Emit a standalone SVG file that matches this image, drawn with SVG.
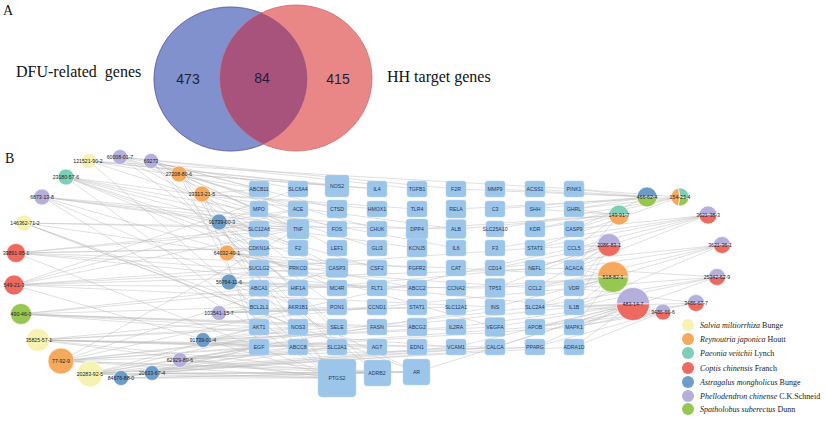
<svg xmlns="http://www.w3.org/2000/svg" width="825" height="421" viewBox="0 0 825 421">
<style>
.ttl{font-family:"Liberation Serif",serif;fill:#111}
.num{font-family:"Liberation Sans",sans-serif;font-size:14px;fill:#1c1f3a;text-anchor:middle}
.gb rect{fill:#9cc5ea;stroke:#b9d6f1;stroke-width:0.5}
.gb text{font-family:"Liberation Sans",sans-serif;font-size:5.2px;fill:#1f3a5f;text-anchor:middle}
.cp text{font-family:"Liberation Sans",sans-serif;font-size:5.2px;fill:#222;text-anchor:middle}
.cp circle,.cp path{stroke:#fff;stroke-width:0.6}
.e path{fill:none;stroke:#bdbdbd;stroke-width:0.55;stroke-opacity:0.85}
.lg text{font-family:"Liberation Serif",serif;font-size:8px;fill:#222}
.sa{fill:#f6f3b2}.re{fill:#f4a95c}.pa{fill:#7dcfb7}.co{fill:#ee6a61}.as{fill:#6c9dc9}.ph{fill:#b5afdb}.sp{fill:#96c851}
</style>
<defs>
<clipPath id="cb"><ellipse cx="230.5" cy="79" rx="76.5" ry="72"/></clipPath>
</defs>

<g id="venn">
<text class="ttl" x="3" y="15" font-size="14">A</text>
<ellipse cx="230.5" cy="79" rx="76.5" ry="72" fill="#8091cd" stroke="#5c6cb2" stroke-width="0.8"/>
<ellipse cx="296" cy="78" rx="76" ry="73" fill="#e98787" stroke="#d26a6a" stroke-width="0.8"/>
<ellipse cx="296" cy="78" rx="76" ry="73" fill="#a8537b" clip-path="url(#cb)"/>
<ellipse cx="230.5" cy="79" rx="76.5" ry="72" fill="none" stroke="#6a4f8a" stroke-width="0.6" stroke-opacity="0.6"/>
<text class="ttl" x="16" y="77" font-size="16" xml:space="preserve">DFU-related  genes</text>
<text class="ttl" x="387" y="82" font-size="16">HH target genes</text>
<text class="num" x="188" y="84">473</text>
<text class="num" x="262" y="83">84</text>
<text class="num" x="338" y="84">415</text>
</g>

<text class="ttl" x="5" y="163" font-size="14">B</text>

<g id="connectors" class="e">
<path d="M89 161L259 189M89 161L337 186M89 161L298 229M89 161L337 378M89 161L377 189M89 161L574 189"/>
<path d="M120 157L298 189M120 157L259 209M120 157L298 209M120 157L337 268M120 157L298 288M120 157L417 189M120 157L456 189"/>
<path d="M151 161L259 189M151 161L337 209M151 161L337 229M151 161L298 229M151 161L337 248M151 161L337 378M151 161L337 347"/>
<path d="M179 174L337 186M179 174L377 189M179 174L377 229M179 174L298 268M179 174L259 327M179 174L337 378M179 174L377 373"/>
<path d="M66 177L298 229M66 177L259 229M66 177L259 248M66 177L456 248M66 177L456 229M66 177L337 268M66 177L337 378M66 177L337 288"/>
<path d="M202 194L259 189M202 194L377 209M202 194L377 248M202 194L417 209M202 194L259 288M202 194L259 347"/>
<path d="M42 197L298 229M42 197L337 229M42 197L417 248M42 197L417 229M42 197L298 307M42 197L337 378M42 197L495 327"/>
<path d="M219 222L259 209M219 222L259 229M219 222L298 209M219 222L298 248M219 222L377 268M219 222L337 307M219 222L337 327"/>
<path d="M24 223L298 229M24 223L456 229M24 223L337 268M24 223L259 307M24 223L298 327M24 223L417 372"/>
<path d="M16 253L259 229M16 253L298 229M16 253L259 248M16 253L298 248M16 253L456 268M16 253L337 378M16 253L574 307M16 253L535 288"/>
<path d="M227 253L259 248M227 253L259 268M227 253L298 268M227 253L417 268M227 253L417 288M227 253L377 373"/>
<path d="M229 282L259 288M229 282L259 268M229 282L298 288M229 282L337 288M229 282L377 288M229 282L456 288M229 282L417 372"/>
<path d="M14 285L298 229M14 285L298 209M14 285L298 189M14 285L337 268M14 285L337 378M14 285L495 307M14 285L495 288M14 285L535 248M14 285L574 268"/>
<path d="M21 314L259 307M21 314L259 288M21 314L259 327M21 314L337 327M21 314L377 327M21 314L417 327M21 314L456 347M21 314L535 268"/>
<path d="M219 313L259 307M219 313L298 307M219 313L337 307M219 313L377 307M219 313L417 307M219 313L456 307"/>
<path d="M38 340L259 327M38 340L259 347M38 340L298 327M38 340L298 347M38 340L337 347M38 340L377 347M38 340L337 378M38 340L377 373M38 340L574 288M38 340L495 347"/>
<path d="M203 340L259 327M203 340L259 347M203 340L298 327M203 340L337 327M203 340L456 327M203 340L495 327M203 340L417 347"/>
<path d="M61 361L298 229M61 361L337 268M61 361L337 378M61 361L377 373M61 361L417 372M61 361L574 327M61 361L535 347M61 361L535 307M61 361L535 327M61 361L574 307M61 361L574 248"/>
<path d="M180 360L259 347M180 360L298 347M180 360L337 347M180 360L337 378M180 360L377 347M180 360L377 373"/>
<path d="M90 374L259 347M90 374L259 327M90 374L298 327M90 374L337 347M90 374L337 378M90 374L377 373M90 374L417 372M90 374L495 347M90 374L574 347M90 374L456 347M90 374L495 307"/>
<path d="M121 378L259 347M121 378L298 347M121 378L337 378M121 378L377 373M121 378L417 372"/>
<path d="M152 373L259 347M152 373L337 378M152 373L417 372M152 373L337 347M152 373L456 347M152 373L495 347M152 373L535 347"/>
<path d="M647 197L574 189M647 197L574 209M647 197L535 189M647 197L495 189M647 197L495 209M647 197L535 209M647 197L574 229M647 197L456 189"/>
<path d="M680 197L574 189M680 197L574 209M680 197L535 229M680 197L495 229M680 197L535 248M680 197L456 209"/>
<path d="M619 215L574 209M619 215L574 229M619 215L535 229M619 215L574 248M619 215L574 268M619 215L535 209M619 215L456 229M619 215L417 229"/>
<path d="M708 215L574 229M708 215L574 248M708 215L535 248M708 215L535 268M708 215L495 248M708 215L574 268"/>
<path d="M609 245L574 248M609 245L574 268M609 245L574 288M609 245L535 248M609 245L495 268M609 245L535 268M609 245L535 288M609 245L495 288M609 245L574 307"/>
<path d="M722 245L574 268M722 245L574 288M722 245L535 288M722 245L574 307M722 245L495 268"/>
<path d="M613 277L574 288M613 277L574 307M613 277L574 327M613 277L574 268M613 277L535 307M613 277L495 307M613 277L535 288M613 277L456 268M613 277L495 288M613 277L456 288"/>
<path d="M633 304L574 307M633 304L574 327M633 304L574 347M633 304L535 327M633 304L535 347M633 304L495 327M633 304L535 307M633 304L495 347M633 304L456 347M633 304L456 327M633 304L417 372"/>
<path d="M717 277L574 288M717 277L574 307M717 277L574 327M717 277L574 268M717 277L535 307"/>
<path d="M696 303L574 327M696 303L574 307M696 303L535 327M696 303L574 288"/>
<path d="M663 312L574 327M663 312L574 347M663 312L535 347M663 312L574 307M663 312L535 327"/>
</g>

<g id="genes">
<g id="g-ABCB11" class="gb"><rect x="249" y="181" width="20" height="16" rx="2.5"/><text x="259" y="190.8">ABCB11</text></g>
<g id="g-SLC6A4" class="gb"><rect x="288" y="181" width="20" height="16" rx="2.5"/><text x="298" y="190.8">SLC6A4</text></g>
<g id="g-NOS2" class="gb"><rect x="325" y="175" width="24" height="22" rx="3"/><text x="337" y="187.8">NOS2</text></g>
<g id="g-IL4" class="gb"><rect x="367" y="181" width="20" height="16" rx="2.5"/><text x="377" y="190.8">IL4</text></g>
<g id="g-TGFB1" class="gb"><rect x="407" y="181" width="20" height="16" rx="2.5"/><text x="417" y="190.8">TGFB1</text></g>
<g id="g-F2R" class="gb"><rect x="446" y="181" width="20" height="16" rx="2.5"/><text x="456" y="190.8">F2R</text></g>
<g id="g-MMP9" class="gb"><rect x="485" y="181" width="20" height="16" rx="2.5"/><text x="495" y="190.8">MMP9</text></g>
<g id="g-ACSS1" class="gb"><rect x="525" y="181" width="20" height="16" rx="2.5"/><text x="535" y="190.8">ACSS1</text></g>
<g id="g-PINK1" class="gb"><rect x="564" y="181" width="20" height="16" rx="2.5"/><text x="574" y="190.8">PINK1</text></g>

<g id="g-MPO" class="gb"><rect x="250" y="201" width="18" height="16" rx="2.5"/><text x="259" y="210.8">MPO</text></g>
<g id="g-ACE" class="gb"><rect x="288" y="201" width="20" height="16" rx="2.5"/><text x="298" y="210.8">ACE</text></g>
<g id="g-CTSD" class="gb"><rect x="327" y="200" width="20" height="18" rx="2.5"/><text x="337" y="210.8">CTSD</text></g>
<g id="g-HMOX1" class="gb"><rect x="367" y="201" width="20" height="16" rx="2.5"/><text x="377" y="210.8">HMOX1</text></g>
<g id="g-TLR4" class="gb"><rect x="407" y="201" width="20" height="16" rx="2.5"/><text x="417" y="210.8">TLR4</text></g>
<g id="g-RELA" class="gb"><rect x="446" y="200" width="20" height="18" rx="2.5"/><text x="456" y="210.8">RELA</text></g>
<g id="g-C3" class="gb"><rect x="485" y="201" width="20" height="16" rx="2.5"/><text x="495" y="210.8">C3</text></g>
<g id="g-SHH" class="gb"><rect x="525" y="201" width="20" height="16" rx="2.5"/><text x="535" y="210.8">SHH</text></g>
<g id="g-GHRL" class="gb"><rect x="564" y="201" width="20" height="16" rx="2.5"/><text x="574" y="210.8">GHRL</text></g>

<g id="g-SLC12A6" class="gb"><rect x="249" y="221" width="20" height="16" rx="2.5"/><text x="259" y="230.8">SLC12A6</text></g>
<g id="g-TNF" class="gb"><rect x="287" y="219" width="22" height="20" rx="3"/><text x="298" y="230.8">TNF</text></g>
<g id="g-FOS" class="gb"><rect x="327" y="221" width="20" height="16" rx="2.5"/><text x="337" y="230.8">FOS</text></g>
<g id="g-CHUK" class="gb"><rect x="367" y="221" width="20" height="16" rx="2.5"/><text x="377" y="230.8">CHUK</text></g>
<g id="g-DPP4" class="gb"><rect x="406" y="219" width="22" height="20" rx="3"/><text x="417" y="230.8">DPP4</text></g>
<g id="g-ALB" class="gb"><rect x="446" y="219.5" width="20" height="19" rx="2.5"/><text x="456" y="230.8">ALB</text></g>
<g id="g-SLC25A10" class="gb"><rect x="486" y="221" width="18" height="16" rx="2.5"/><text x="495" y="230.8">SLC25A10</text></g>
<g id="g-KDR" class="gb"><rect x="525" y="221" width="20" height="16" rx="2.5"/><text x="535" y="230.8">KDR</text></g>
<g id="g-CASP9" class="gb"><rect x="564" y="221" width="20" height="16" rx="2.5"/><text x="574" y="230.8">CASP9</text></g>

<g id="g-CDKN1A" class="gb"><rect x="249" y="240" width="20" height="16" rx="2.5"/><text x="259" y="249.8">CDKN1A</text></g>
<g id="g-F2" class="gb"><rect x="288" y="240" width="20" height="16" rx="2.5"/><text x="298" y="249.8">F2</text></g>
<g id="g-LEF1" class="gb"><rect x="327" y="240" width="20" height="16" rx="2.5"/><text x="337" y="249.8">LEF1</text></g>
<g id="g-GLI3" class="gb"><rect x="367" y="240" width="20" height="16" rx="2.5"/><text x="377" y="249.8">GLI3</text></g>
<g id="g-KCNJ5" class="gb"><rect x="407" y="239" width="20" height="18" rx="2.5"/><text x="417" y="249.8">KCNJ5</text></g>
<g id="g-IL6" class="gb"><rect x="446" y="240" width="20" height="16" rx="2.5"/><text x="456" y="249.8">IL6</text></g>
<g id="g-F3" class="gb"><rect x="485" y="240" width="20" height="16" rx="2.5"/><text x="495" y="249.8">F3</text></g>
<g id="g-STAT3" class="gb"><rect x="525" y="240" width="20" height="16" rx="2.5"/><text x="535" y="249.8">STAT3</text></g>
<g id="g-CCL5" class="gb"><rect x="564" y="240" width="20" height="16" rx="2.5"/><text x="574" y="249.8">CCL5</text></g>

<g id="g-SUCLG2" class="gb"><rect x="249" y="260" width="20" height="16" rx="2.5"/><text x="259" y="269.8">SUCLG2</text></g>
<g id="g-PRKCD" class="gb"><rect x="288" y="260" width="20" height="16" rx="2.5"/><text x="298" y="269.8">PRKCD</text></g>
<g id="g-CASP3" class="gb"><rect x="326" y="258.5" width="22" height="19" rx="3"/><text x="337" y="269.8">CASP3</text></g>
<g id="g-CSF2" class="gb"><rect x="367" y="260" width="20" height="16" rx="2.5"/><text x="377" y="269.8">CSF2</text></g>
<g id="g-FGFR2" class="gb"><rect x="407" y="260" width="20" height="16" rx="2.5"/><text x="417" y="269.8">FGFR2</text></g>
<g id="g-CAT" class="gb"><rect x="446" y="260" width="20" height="16" rx="2.5"/><text x="456" y="269.8">CAT</text></g>
<g id="g-CD14" class="gb"><rect x="485" y="260" width="20" height="16" rx="2.5"/><text x="495" y="269.8">CD14</text></g>
<g id="g-NEFL" class="gb"><rect x="525" y="260" width="20" height="16" rx="2.5"/><text x="535" y="269.8">NEFL</text></g>
<g id="g-ACACA" class="gb"><rect x="564" y="260" width="20" height="16" rx="2.5"/><text x="574" y="269.8">ACACA</text></g>

<g id="g-ABCA1" class="gb"><rect x="249" y="280" width="20" height="16" rx="2.5"/><text x="259" y="289.8">ABCA1</text></g>
<g id="g-HIF1A" class="gb"><rect x="288" y="280" width="20" height="16" rx="2.5"/><text x="298" y="289.8">HIF1A</text></g>
<g id="g-MC4R" class="gb"><rect x="327" y="280" width="20" height="16" rx="2.5"/><text x="337" y="289.8">MC4R</text></g>
<g id="g-FLT1" class="gb"><rect x="367" y="280" width="20" height="16" rx="2.5"/><text x="377" y="289.8">FLT1</text></g>
<g id="g-ABCC2" class="gb"><rect x="407" y="280" width="20" height="16" rx="2.5"/><text x="417" y="289.8">ABCC2</text></g>
<g id="g-CCNA2" class="gb"><rect x="446" y="280" width="20" height="16" rx="2.5"/><text x="456" y="289.8">CCNA2</text></g>
<g id="g-TP53" class="gb"><rect x="485" y="278.5" width="20" height="19" rx="2.5"/><text x="495" y="289.8">TP53</text></g>
<g id="g-CCL2" class="gb"><rect x="525" y="280" width="20" height="16" rx="2.5"/><text x="535" y="289.8">CCL2</text></g>
<g id="g-VDR" class="gb"><rect x="564" y="280" width="20" height="16" rx="2.5"/><text x="574" y="289.8">VDR</text></g>

<g id="g-BCL2L1" class="gb"><rect x="249" y="299" width="20" height="16" rx="2.5"/><text x="259" y="308.8">BCL2L1</text></g>
<g id="g-AKR1B1" class="gb"><rect x="288" y="299" width="20" height="16" rx="2.5"/><text x="298" y="308.8">AKR1B1</text></g>
<g id="g-PON1" class="gb"><rect x="327" y="299" width="20" height="16" rx="2.5"/><text x="337" y="308.8">PON1</text></g>
<g id="g-CCND1" class="gb"><rect x="367" y="299" width="20" height="16" rx="2.5"/><text x="377" y="308.8">CCND1</text></g>
<g id="g-STAT1" class="gb"><rect x="407" y="299" width="20" height="16" rx="2.5"/><text x="417" y="308.8">STAT1</text></g>
<g id="g-SLC12A1" class="gb"><rect x="446" y="299" width="20" height="16" rx="2.5"/><text x="456" y="308.8">SLC12A1</text></g>
<g id="g-INS" class="gb"><rect x="485" y="299" width="20" height="16" rx="2.5"/><text x="495" y="308.8">INS</text></g>
<g id="g-SLC2A4" class="gb"><rect x="525" y="299" width="20" height="16" rx="2.5"/><text x="535" y="308.8">SLC2A4</text></g>
<g id="g-IL1B" class="gb"><rect x="564" y="299" width="20" height="16" rx="2.5"/><text x="574" y="308.8">IL1B</text></g>

<g id="g-AKT1" class="gb"><rect x="249" y="319" width="20" height="16" rx="2.5"/><text x="259" y="328.8">AKT1</text></g>
<g id="g-NOS3" class="gb"><rect x="288" y="319" width="20" height="16" rx="2.5"/><text x="298" y="328.8">NOS3</text></g>
<g id="g-SELE" class="gb"><rect x="327" y="319" width="20" height="16" rx="2.5"/><text x="337" y="328.8">SELE</text></g>
<g id="g-FASN" class="gb"><rect x="367" y="319" width="20" height="16" rx="2.5"/><text x="377" y="328.8">FASN</text></g>
<g id="g-ABCG2" class="gb"><rect x="407" y="318" width="20" height="18" rx="2.5"/><text x="417" y="328.8">ABCG2</text></g>
<g id="g-IL2RA" class="gb"><rect x="446" y="319" width="20" height="16" rx="2.5"/><text x="456" y="328.8">IL2RA</text></g>
<g id="g-VEGFA" class="gb"><rect x="485" y="317.5" width="20" height="19" rx="2.5"/><text x="495" y="328.8">VEGFA</text></g>
<g id="g-APOB" class="gb"><rect x="525" y="319" width="20" height="16" rx="2.5"/><text x="535" y="328.8">APOB</text></g>
<g id="g-MAPK1" class="gb"><rect x="564" y="319" width="20" height="16" rx="2.5"/><text x="574" y="328.8">MAPK1</text></g>

<g id="g-EGF" class="gb"><rect x="249" y="339" width="20" height="16" rx="2.5"/><text x="259" y="348.8">EGF</text></g>
<g id="g-ABCC8" class="gb"><rect x="288" y="339" width="20" height="16" rx="2.5"/><text x="298" y="348.8">ABCC8</text></g>
<g id="g-SLC2A1" class="gb"><rect x="327" y="339" width="20" height="16" rx="2.5"/><text x="337" y="348.8">SLC2A1</text></g>
<g id="g-AGT" class="gb"><rect x="367" y="339" width="20" height="16" rx="2.5"/><text x="377" y="348.8">AGT</text></g>
<g id="g-EDN1" class="gb"><rect x="407" y="339" width="20" height="16" rx="2.5"/><text x="417" y="348.8">EDN1</text></g>
<g id="g-VCAM1" class="gb"><rect x="446" y="339" width="20" height="16" rx="2.5"/><text x="456" y="348.8">VCAM1</text></g>
<g id="g-CALCA" class="gb"><rect x="485" y="339" width="20" height="16" rx="2.5"/><text x="495" y="348.8">CALCA</text></g>
<g id="g-PPARG" class="gb"><rect x="525" y="339" width="20" height="16" rx="2.5"/><text x="535" y="348.8">PPARG</text></g>
<g id="g-ADRA1D" class="gb"><rect x="564" y="339" width="20" height="16" rx="2.5"/><text x="574" y="348.8">ADRA1D</text></g>

<g id="g-PTGS2" class="gb"><rect x="318" y="359" width="38" height="38" rx="4"/><text x="337" y="379.8">PTGS2</text></g>
<g id="g-ADRB2" class="gb"><rect x="364" y="360" width="27" height="26" rx="3.5"/><text x="377" y="374.8">ADRB2</text></g>
<g id="g-AR" class="gb"><rect x="403" y="359" width="27" height="26" rx="3.5"/><text x="416.5" y="373.8">AR</text></g>
</g>

<g id="compounds">
<g id="c-121521-90-2" class="cp"><circle class="sa" cx="89" cy="161" r="7.5"/><text x="88" y="162.8">121521-90-2</text></g>
<g id="c-60008-01-7" class="cp"><circle class="ph" cx="120" cy="157" r="7.5"/><text x="120" y="158.8">60008-01-7</text></g>
<g id="c-69273" class="cp"><circle class="ph" cx="151" cy="161" r="7.5"/><text x="151" y="162.8">69273</text></g>
<g id="c-27208-80-6" class="cp"><circle class="re" cx="179" cy="174" r="8"/><text x="179" y="175.8">27208-80-6</text></g>
<g id="c-23180-57-6" class="cp"><circle class="pa" cx="66" cy="177" r="8"/><text x="66" y="178.8">23180-57-6</text></g>
<g id="c-23313-21-5" class="cp"><circle class="re" cx="202" cy="194" r="8"/><text x="202" y="195.8">23313-21-5</text></g>
<g id="c-6873-13-8" class="cp"><circle class="ph" cx="42" cy="197" r="8"/><text x="42" y="198.8">6873-13-8</text></g>
<g id="c-91739-00-3" class="cp"><circle class="as" cx="219" cy="222" r="8"/><text x="222" y="223.8">91739-00-3</text></g>
<g id="c-146362-71-2" class="cp"><circle class="sa" cx="24" cy="223" r="8"/><text x="25" y="224.8">146362-71-2</text></g>
<g id="c-39891-95-1" class="cp"><circle class="co" cx="16" cy="253" r="9.5"/><text x="16" y="254.8">39891-95-1</text></g>
<g id="c-64032-49-1" class="cp"><circle class="re" cx="227" cy="253" r="8"/><text x="227" y="254.8">64032-49-1</text></g>
<g id="c-56764-11-6" class="cp"><circle class="as" cx="229" cy="282" r="8"/><text x="229" y="283.8">56764-11-6</text></g>
<g id="c-549-21-3" class="cp"><circle class="co" cx="14" cy="285" r="10"/><text x="14" y="286.8">549-21-3</text></g>
<g id="c-490-46-0" class="cp"><circle class="sp" cx="21" cy="314" r="10.5"/><text x="21" y="315.8">490-46-0</text></g>
<g id="c-103541-15-7" class="cp"><circle class="ph" cx="219" cy="313" r="7.5"/><text x="219" y="314.8">103541-15-7</text></g>
<g id="c-35825-57-1" class="cp"><circle class="sa" cx="38" cy="340" r="11.5"/><text x="39" y="341.8">35825-57-1</text></g>
<g id="c-91739-01-4" class="cp"><circle class="as" cx="203" cy="340" r="7.5"/><text x="203" y="341.8">91739-01-4</text></g>
<g id="c-77-92-9" class="cp"><circle class="re" cx="61" cy="361" r="13"/><text x="61" y="362.8">77-92-9</text></g>
<g id="c-62929-89-6" class="cp"><circle class="ph" cx="180" cy="360" r="7.5"/><text x="180" y="361.8">62929-89-6</text></g>
<g id="c-20283-92-5" class="cp"><circle class="sa" cx="90" cy="374" r="13"/><text x="90" y="375.8">20283-92-5</text></g>
<g id="c-84676-88-0" class="cp"><circle class="as" cx="121" cy="378" r="7.5"/><text x="121" y="379.8">84676-88-0</text></g>
<g id="c-20633-67-4" class="cp"><circle class="as" cx="152" cy="373" r="7.5"/><text x="152" y="374.8">20633-67-4</text></g>

<g id="c-466-62-4" class="cp"><path class="as" d="M637 197A10 10 0 0 1 657 197Z"/><path class="sp" d="M637 197A10 10 0 0 0 657 197Z"/><text x="647" y="198.8">466-62-4</text></g>
<g id="c-154-23-4" class="cp"><path class="re" d="M680 197L678.44 205.86A9 9 0 0 1 678.44 188.14Z"/><path class="pa" d="M680 197L678.44 188.14A9 9 0 0 1 688.86 198.56Z"/><path class="sp" d="M680 197L688.86 198.56A9 9 0 0 1 678.44 205.86Z"/><text x="680" y="198.8">154-23-4</text></g>
<g id="c-149-91-7" class="cp"><path class="pa" d="M609 215A10 10 0 0 1 629 215Z"/><path class="re" d="M609 215A10 10 0 0 0 629 215Z"/><text x="619" y="216.8">149-91-7</text></g>
<g id="c-3621-38-3" class="cp"><path class="ph" d="M699 215A9 9 0 0 1 717 215Z"/><path class="co" d="M699 215A9 9 0 0 0 717 215Z"/><text x="708" y="216.8">3621-38-3</text></g>
<g id="c-2086-83-1" class="cp"><path class="ph" d="M597.5 245A11.5 11.5 0 0 1 620.5 245Z"/><path class="co" d="M597.5 245A11.5 11.5 0 0 0 620.5 245Z"/><text x="609" y="246.8">2086-83-1</text></g>
<g id="c-3621-36-1" class="cp"><path class="ph" d="M713.5 245A8.5 8.5 0 0 1 730.5 245Z"/><path class="co" d="M713.5 245A8.5 8.5 0 0 0 730.5 245Z"/><text x="720" y="246.8">3621-36-1</text></g>
<g id="c-518-82-1" class="cp"><path class="re" d="M597.5 277A15.5 15.5 0 0 1 628.5 277Z"/><path class="sp" d="M597.5 277A15.5 15.5 0 0 0 628.5 277Z"/><text x="613" y="278.8">518-82-1</text></g>
<g id="c-483-14-7" class="cp"><path class="ph" d="M616.5 304A16.5 16.5 0 0 1 649.5 304Z"/><path class="co" d="M616.5 304A16.5 16.5 0 0 0 649.5 304Z"/><text x="633" y="305.8">483-14-7</text></g>
<g id="c-25342-62-9" class="cp"><path class="ph" d="M708.5 277A8.5 8.5 0 0 1 725.5 277Z"/><path class="co" d="M708.5 277A8.5 8.5 0 0 0 725.5 277Z"/><text x="717" y="278.8">25342-62-9</text></g>
<g id="c-3486-67-7" class="cp"><path class="ph" d="M687.5 303A8.5 8.5 0 0 1 704.5 303Z"/><path class="co" d="M687.5 303A8.5 8.5 0 0 0 704.5 303Z"/><text x="696" y="304.8">3486-67-7</text></g>
<g id="c-3486-66-6" class="cp"><path class="ph" d="M655 312A8 8 0 0 1 671 312Z"/><path class="co" d="M655 312A8 8 0 0 0 671 312Z"/><text x="663" y="313.8">3486-66-6</text></g>
</g>

<g id="legend" class="lg">
<circle class="sa" cx="688" cy="325" r="6"/><text x="700" y="328"><tspan font-style="italic">Salvia miltiorrhiza</tspan> Bunge</text>
<circle class="re" cx="688" cy="339" r="6"/><text x="700" y="342"><tspan font-style="italic">Reynoutria japonica</tspan> Houtt</text>
<circle class="pa" cx="688" cy="353" r="6"/><text x="700" y="356"><tspan font-style="italic">Paeonia veitchii</tspan> Lynch</text>
<circle class="co" cx="688" cy="368" r="6"/><text x="700" y="371"><tspan font-style="italic">Coptis chinensis</tspan> Franch</text>
<circle class="as" cx="688" cy="382" r="6"/><text x="700" y="385"><tspan font-style="italic">Astragalus mongholicus</tspan> Bunge</text>
<circle class="ph" cx="688" cy="396" r="6"/><text x="700" y="399"><tspan font-style="italic">Phellodendron chinense</tspan> C.K.Schneid</text>
<circle class="sp" cx="688" cy="409" r="6"/><text x="700" y="412"><tspan font-style="italic">Spatholobus suberectus</tspan> Dunn</text>
</g>
</svg>
